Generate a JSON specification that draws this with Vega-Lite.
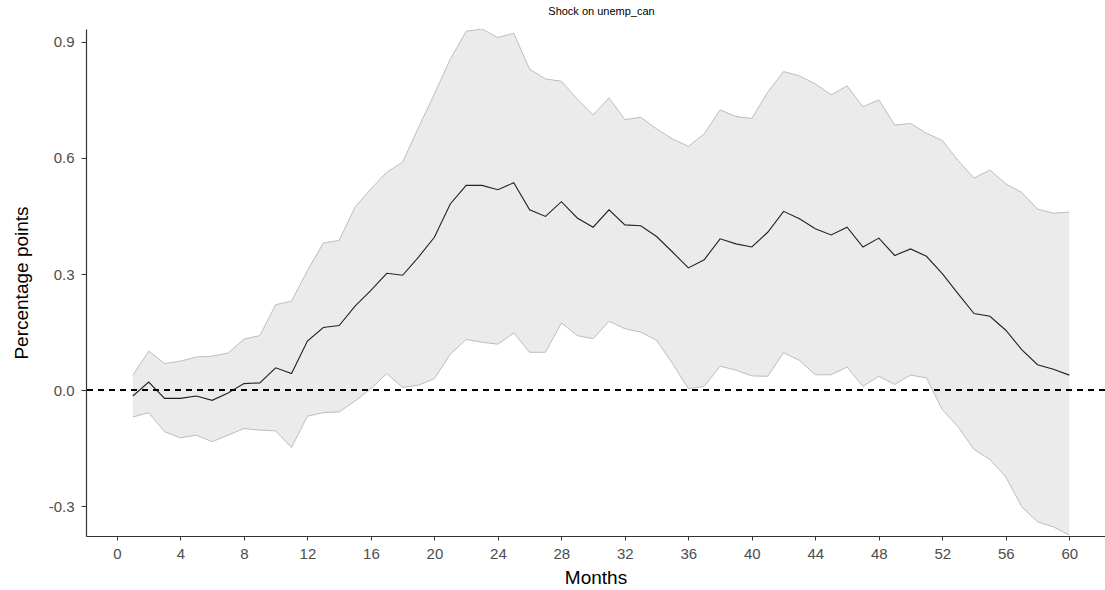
{
  "$schema": "https://vega.github.io/schema/vega-lite/v6.json",
  "width": 1019,
  "height": 507,
  "autosize": {"type": "none"},
  "padding": {"left": 86, "top": 29, "right": 0, "bottom": 54},
  "background": "white",
  "config": {"view": {"stroke": null}, "font": "Liberation Sans"},
  "title": {"text": "Shock on unemp_can", "fontSize": 11, "fontWeight": "normal", "color": "#000000", "font": "Liberation Sans", "anchor": "middle", "offset": 12, "dx": 6},
  "data": {"values": [
    {"m": 1, "mean": -0.015, "lo": -0.069, "hi": 0.039},
    {"m": 2, "mean": 0.021, "lo": -0.058, "hi": 0.101},
    {"m": 3, "mean": -0.021, "lo": -0.107, "hi": 0.069},
    {"m": 4, "mean": -0.021, "lo": -0.123, "hi": 0.075},
    {"m": 5, "mean": -0.015, "lo": -0.116, "hi": 0.086},
    {"m": 6, "mean": -0.026, "lo": -0.133, "hi": 0.088},
    {"m": 7, "mean": -0.007, "lo": -0.116, "hi": 0.096},
    {"m": 8, "mean": 0.017, "lo": -0.099, "hi": 0.132},
    {"m": 9, "mean": 0.019, "lo": -0.103, "hi": 0.141},
    {"m": 10, "mean": 0.058, "lo": -0.105, "hi": 0.221},
    {"m": 11, "mean": 0.043, "lo": -0.148, "hi": 0.230},
    {"m": 12, "mean": 0.127, "lo": -0.067, "hi": 0.309},
    {"m": 13, "mean": 0.162, "lo": -0.058, "hi": 0.380},
    {"m": 14, "mean": 0.167, "lo": -0.056, "hi": 0.387},
    {"m": 15, "mean": 0.217, "lo": -0.028, "hi": 0.473},
    {"m": 16, "mean": 0.258, "lo": 0.004, "hi": 0.520},
    {"m": 17, "mean": 0.302, "lo": 0.043, "hi": 0.563},
    {"m": 18, "mean": 0.297, "lo": 0.007, "hi": 0.589},
    {"m": 19, "mean": 0.344, "lo": 0.013, "hi": 0.679},
    {"m": 20, "mean": 0.395, "lo": 0.030, "hi": 0.765},
    {"m": 21, "mean": 0.481, "lo": 0.093, "hi": 0.855},
    {"m": 22, "mean": 0.529, "lo": 0.131, "hi": 0.927},
    {"m": 23, "mean": 0.529, "lo": 0.124, "hi": 0.933},
    {"m": 24, "mean": 0.518, "lo": 0.119, "hi": 0.911},
    {"m": 25, "mean": 0.536, "lo": 0.148, "hi": 0.922},
    {"m": 26, "mean": 0.466, "lo": 0.098, "hi": 0.829},
    {"m": 27, "mean": 0.449, "lo": 0.098, "hi": 0.804},
    {"m": 28, "mean": 0.487, "lo": 0.174, "hi": 0.798},
    {"m": 29, "mean": 0.445, "lo": 0.141, "hi": 0.752},
    {"m": 30, "mean": 0.421, "lo": 0.133, "hi": 0.711},
    {"m": 31, "mean": 0.466, "lo": 0.178, "hi": 0.755},
    {"m": 32, "mean": 0.427, "lo": 0.159, "hi": 0.699},
    {"m": 33, "mean": 0.425, "lo": 0.150, "hi": 0.705},
    {"m": 34, "mean": 0.397, "lo": 0.129, "hi": 0.675},
    {"m": 35, "mean": 0.357, "lo": 0.069, "hi": 0.649},
    {"m": 36, "mean": 0.316, "lo": 0.004, "hi": 0.630},
    {"m": 37, "mean": 0.337, "lo": 0.010, "hi": 0.662},
    {"m": 38, "mean": 0.391, "lo": 0.062, "hi": 0.724},
    {"m": 39, "mean": 0.378, "lo": 0.052, "hi": 0.707},
    {"m": 40, "mean": 0.370, "lo": 0.037, "hi": 0.702},
    {"m": 41, "mean": 0.408, "lo": 0.036, "hi": 0.770},
    {"m": 42, "mean": 0.462, "lo": 0.097, "hi": 0.823},
    {"m": 43, "mean": 0.443, "lo": 0.077, "hi": 0.812},
    {"m": 44, "mean": 0.417, "lo": 0.040, "hi": 0.791},
    {"m": 45, "mean": 0.401, "lo": 0.040, "hi": 0.763},
    {"m": 46, "mean": 0.421, "lo": 0.060, "hi": 0.786},
    {"m": 47, "mean": 0.370, "lo": 0.010, "hi": 0.732},
    {"m": 48, "mean": 0.393, "lo": 0.036, "hi": 0.750},
    {"m": 49, "mean": 0.348, "lo": 0.015, "hi": 0.685},
    {"m": 50, "mean": 0.365, "lo": 0.039, "hi": 0.689},
    {"m": 51, "mean": 0.346, "lo": 0.032, "hi": 0.664},
    {"m": 52, "mean": 0.301, "lo": -0.050, "hi": 0.645},
    {"m": 53, "mean": 0.249, "lo": -0.095, "hi": 0.593},
    {"m": 54, "mean": 0.198, "lo": -0.153, "hi": 0.548},
    {"m": 55, "mean": 0.191, "lo": -0.179, "hi": 0.569},
    {"m": 56, "mean": 0.155, "lo": -0.224, "hi": 0.533},
    {"m": 57, "mean": 0.105, "lo": -0.301, "hi": 0.511},
    {"m": 58, "mean": 0.066, "lo": -0.340, "hi": 0.468},
    {"m": 59, "mean": 0.054, "lo": -0.353, "hi": 0.457},
    {"m": 60, "mean": 0.039, "lo": -0.374, "hi": 0.460}
  ]},
  "encoding": {
    "x": {
      "field": "m", "type": "quantitative",
      "scale": {"domain": [-1.95, 62.25], "nice": false, "zero": false},
      "axis": {
        "title": "Months", "titleFontSize": 19, "titleFontWeight": "normal", "titleColor": "#000000", "titleFont": "Liberation Sans", "titlePadding": 7,
        "values": [0, 4, 8, 12, 16, 20, 24, 28, 32, 36, 40, 44, 48, 52, 56, 60],
        "labelFontSize": 15, "labelColor": "#4D4D4D", "labelFont": "Liberation Sans", "labelPadding": 6,
        "tickColor": "#333333", "tickSize": 4, "tickWidth": 1,
        "domainColor": "#333333", "domainWidth": 1.2, "grid": false
      }
    },
    "y": {
      "type": "quantitative",
      "scale": {"domain": [-0.3765, 0.933], "nice": false, "zero": false},
      "axis": {
        "title": "Percentage points", "titleFontSize": 19, "titleFontWeight": "normal", "titleColor": "#000000", "titleFont": "Liberation Sans", "titlePadding": 17,
        "values": [-0.3, 0, 0.3, 0.6, 0.9], "format": ".1f",
        "labelExpr": "replace(datum.label, '\u2212', '-')",
        "labelFontSize": 15, "labelColor": "#4D4D4D", "labelFont": "Liberation Sans", "labelPadding": 7,
        "tickColor": "#333333", "tickSize": 5, "tickWidth": 1,
        "domainColor": "#333333", "domainWidth": 1.2, "grid": false
      }
    }
  },
  "layer": [
    {
      "mark": {"type": "area", "fill": "#EBEBEB", "opacity": 1, "clip": true},
      "encoding": {"y": {"field": "lo", "type": "quantitative"}, "y2": {"field": "hi"}}
    },
    {
      "mark": {"type": "line", "color": "#BDBDBD", "strokeWidth": 1, "clip": true},
      "encoding": {"y": {"field": "hi", "type": "quantitative"}}
    },
    {
      "mark": {"type": "line", "color": "#BDBDBD", "strokeWidth": 1, "clip": true},
      "encoding": {"y": {"field": "lo", "type": "quantitative"}}
    },
    {
      "mark": {"type": "line", "color": "#222222", "strokeWidth": 1.1, "clip": true},
      "encoding": {"y": {"field": "mean", "type": "quantitative"}}
    },
    {
      "mark": {"type": "rule", "color": "#000000", "strokeWidth": 1.2, "strokeDash": [6, 5]},
      "encoding": {"y": {"datum": 0}, "x": null}
    }
  ]
}
